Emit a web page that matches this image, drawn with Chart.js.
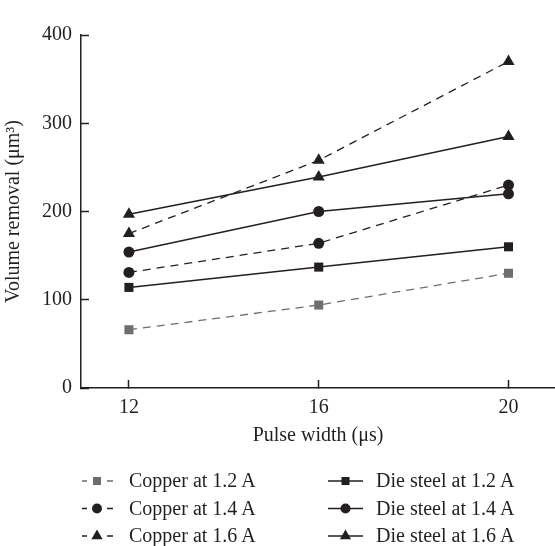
<!DOCTYPE html>
<html>
<head>
<meta charset="utf-8">
<script src="https://cdn.jsdelivr.net/npm/chart.js@4.4.0/dist/chart.umd.min.js"></script>
<style>
  body { margin: 0; background: #fff; }
  #wrap { width: 555px; height: 546px; position: relative; }
</style>
</head>
<body>
<div id="wrap"><canvas id="grafico"></canvas></div>
<script>
// Pulse width (µs)
const pulseWidths = [12, 16, 20];
const xTicks = [12, 16, 20];
const yTicks = [0, 100, 200, 300, 400];

// Volume removal (µm³)
const copper12 = [66, 94, 130];
const copper14 = [131, 164, 230];
const copper16 = [175, 258, 370];
const steel12 = [114, 137, 160];
const steel14 = [154, 200, 220];
const steel16 = [197, 239, 285];

const seriesLabels = [
  "Copper at 1.2\u2009A", "Copper at 1.4\u2009A", "Copper at 1.6\u2009A",
  "Die steel at 1.2\u2009A", "Die steel at 1.4\u2009A", "Die steel at 1.6\u2009A"
];

const negro = "#231f20";
const gris = "#6d6e71";
const fuente = '"Liberation Serif", "Times New Roman", serif';

function puntos(vals) {
  return pulseWidths.map((x, i) => ({ x: x, y: vals[i] }));
}

function serie(label, vals, color, style, radius, dashed) {
  return {
    label: label,
    data: puntos(vals),
    borderColor: color,
    backgroundColor: color,
    pointBackgroundColor: color,
    pointBorderColor: color,
    pointBorderWidth: 0,
    borderWidth: dashed ? 1.3 : 1.5,
    borderDash: dashed ? [8, 6] : [],
    pointStyle: style,
    pointRadius: radius,
    pointHoverRadius: radius,
    tension: 0,
    dashed: dashed
  };
}

const datasets = [
  serie(seriesLabels[0], copper12, gris, "rect", 6.4, true),
  serie(seriesLabels[1], copper14, negro, "circle", 5.5, true),
  serie(seriesLabels[2], copper16, negro, "triangle", 7, true),
  serie(seriesLabels[3], steel12, negro, "rect", 6.4, false),
  serie(seriesLabels[4], steel14, negro, "circle", 5.5, false),
  serie(seriesLabels[5], steel16, negro, "triangle", 7, false)
];

// marker shapes, same geometry as Chart.js point styles
function marcador(ctx, style, x, y, r) {
  ctx.beginPath();
  if (style === "rect") {
    const s = Math.SQRT1_2 * r;
    ctx.rect(x - s, y - s, 2 * s, 2 * s);
  } else if (style === "circle") {
    ctx.arc(x, y, r, 0, Math.PI * 2);
  } else {
    let a = 0;
    ctx.moveTo(x + Math.sin(a) * r, y - Math.cos(a) * r);
    a += Math.PI * 2 / 3;
    ctx.lineTo(x + Math.sin(a) * r, y - Math.cos(a) * r);
    a += Math.PI * 2 / 3;
    ctx.lineTo(x + Math.sin(a) * r, y - Math.cos(a) * r);
  }
  ctx.closePath();
  ctx.fill();
}

// legend below the x axis title: copper on the left, die steel on the right
const leyenda = {
  id: "leyenda",
  afterDraw(chart) {
    const ctx = chart.ctx;
    const filas = [481, 508.5, 536];
    const columnas = [
      { x0: 82, x1: 113, marca: 97, texto: 129 },
      { x0: 328, x1: 363, marca: 345.5, texto: 376 }
    ];
    const tam = { rect: 5.7, circle: 5, triangle: 6.5 };
    ctx.save();
    ctx.font = "20px " + fuente;
    ctx.textBaseline = "middle";
    chart.data.datasets.forEach((ds, i) => {
      const c = columnas[i < 3 ? 0 : 1];
      const y = filas[i % 3];
      ctx.strokeStyle = ds.borderColor;
      ctx.fillStyle = ds.borderColor;
      ctx.lineWidth = 1.6;
      ctx.beginPath();
      if (ds.dashed) {
        ctx.moveTo(c.x0, y); ctx.lineTo(c.x0 + 5, y);
        ctx.moveTo(c.x1 - 6, y); ctx.lineTo(c.x1, y);
      } else {
        ctx.moveTo(c.x0, y); ctx.lineTo(c.x1, y);
      }
      ctx.stroke();
      marcador(ctx, ds.pointStyle, c.marca, y, tam[ds.pointStyle]);
      ctx.fillStyle = negro;
      ctx.fillText(ds.label, c.texto, y + 1);
    });
    ctx.restore();
  }
};

new Chart(document.getElementById("grafico"), {
  type: "line",
  data: { datasets: datasets },
  plugins: [leyenda],
  options: {
    responsive: true,
    maintainAspectRatio: false,
    animation: false,
    layout: { autoPadding: false, padding: { top: 35, right: 0, bottom: 98, left: 0 } },
    plugins: {
      legend: { display: false },
      tooltip: { enabled: false }
    },
    scales: {
      x: {
        type: "linear",
        min: 10.99,
        max: 20.98,
        afterBuildTicks: axis => { axis.ticks = xTicks.map(v => ({ value: v })); },
        afterFit: axis => { axis.height = 60; axis.paddingLeft = 0; axis.paddingRight = 0; },
        border: { color: negro, width: 1.5 },
        grid: { drawOnChartArea: false, drawTicks: true, tickLength: -8, color: negro, tickColor: negro, tickWidth: 1.5 },
        ticks: { color: negro, padding: 16, maxRotation: 0, font: { family: fuente, size: 20 } },
        title: {
          display: true,
          text: "Pulse width (\u03bcs)",
          color: negro,
          padding: { top: 0, bottom: 0 },
          font: { family: fuente, size: 20 }
        }
      },
      y: {
        min: 0,
        max: 400,
        afterBuildTicks: axis => { axis.ticks = yTicks.map(v => ({ value: v })); },
        afterFit: axis => { axis.width = 81; axis.paddingTop = 0; axis.paddingBottom = 0; },
        border: { color: negro, width: 1.5 },
        grid: { drawOnChartArea: false, drawTicks: true, tickLength: -8, color: negro, tickColor: negro, tickWidth: 1.5 },
        ticks: { color: negro, padding: 17, font: { family: fuente, size: 20 } },
        title: {
          display: true,
          text: "Volume removal (\u03bcm\u00b3)",
          color: negro,
          padding: { top: 2, bottom: 0 },
          font: { family: fuente, size: 20 }
        }
      }
    }
  }
});
</script>
</body>
</html>
